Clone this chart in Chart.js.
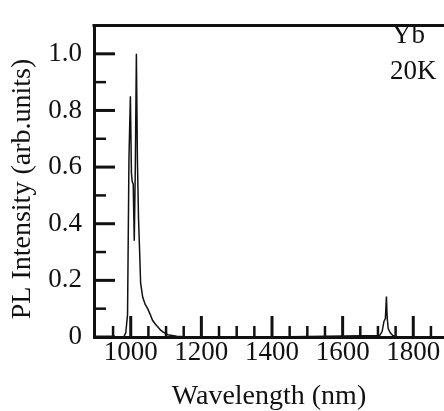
<!DOCTYPE html>
<html>
<head>
<meta charset="utf-8">
<script src="https://cdn.jsdelivr.net/npm/chart.js@4/dist/chart.umd.min.js"></script>
<style>
  html, body { margin: 0; padding: 0; background: #fff; }
  #wrap { width: 444px; height: 411px; }
</style>
</head>
<body>
<div id="wrap"><canvas id="plSpectrum"></canvas></div>
<script>
// PL spectrum of Yb at 20K
const wavelength = [896, 980, 986, 991, 995, 999, 1002, 1004, 1007, 1010, 1013, 1016, 1019, 1022, 1025, 1028, 1034, 1041, 1048, 1055, 1062, 1070, 1077, 1084, 1091, 1105, 1130, 1160, 1400, 1705, 1712, 1717, 1721, 1724, 1726, 1729, 1735, 1742, 1755, 1887];
const intensity  = [0,   0,   0.015, 0.08, 0.63, 0.85, 0.58, 0.55, 0.54, 0.34, 0.6,  1.0,  0.62, 0.42, 0.31, 0.19, 0.14, 0.115, 0.1, 0.08, 0.058, 0.045, 0.035, 0.025, 0.018, 0.008, 0.003, 0, 0, 0.005, 0.02, 0.055, 0.065, 0.143, 0.07, 0.03, 0.015, 0.005, 0, 0];

const xMajorTicks = [1000, 1200, 1400, 1600, 1800];
const xMinorTicks = [950, 1050, 1100, 1150, 1250, 1300, 1350, 1450, 1500, 1550, 1650, 1700, 1750, 1850];
const yMajorTicks = [0, 0.2, 0.4, 0.6, 0.8, 1.0];
const yMinorTicks = [0.1, 0.3, 0.5, 0.7, 0.9];
const yTitle = "PL Intensity (arb.units)";
const xTitle = "Wavelength (nm)";
const notes = ["Yb", "20K"];

const serif = "'Liberation Serif', 'Times New Roman', serif";

// inward ticks, top frame line, y title and the labels in the corner
const framePlugin = {
  id: "frame",
  afterDraw(chart) {
    const ctx = chart.ctx;
    const area = chart.chartArea;
    const x = chart.scales.x;
    const y = chart.scales.y;
    ctx.save();
    ctx.strokeStyle = "#111";
    ctx.lineCap = "butt";

    function xTick(v, len, w) {
      const px = x.getPixelForValue(v);
      ctx.lineWidth = w;
      ctx.beginPath();
      ctx.moveTo(px, area.bottom);
      ctx.lineTo(px, area.bottom - len);
      ctx.stroke();
    }
    function yTick(v, len, w) {
      const py = y.getPixelForValue(v);
      ctx.lineWidth = w;
      ctx.beginPath();
      ctx.moveTo(area.left, py);
      ctx.lineTo(area.left + len, py);
      ctx.stroke();
    }
    xMajorTicks.forEach(v => xTick(v, 21, 3));
    xMinorTicks.forEach(v => xTick(v, 11, 2.5));
    yMajorTicks.forEach(v => yTick(v, 21, 3));
    yMinorTicks.forEach(v => yTick(v, 12, 2.5));

    // top border
    ctx.lineWidth = 3;
    ctx.beginPath();
    ctx.moveTo(area.left - 1.5, area.top);
    ctx.lineTo(area.right, area.top);
    ctx.stroke();

    ctx.fillStyle = "#111";
    ctx.font = "28px " + serif;
    ctx.textAlign = "center";
    ctx.textBaseline = "middle";
    ctx.translate(23, 189);
    ctx.rotate(-Math.PI / 2);
    ctx.fillText(yTitle, 0, 0);
    ctx.restore();

    ctx.save();
    ctx.fillStyle = "#111";
    ctx.font = "27px " + serif;
    ctx.textAlign = "left";
    ctx.textBaseline = "middle";
    ctx.fillText(notes[0], 392, 36);
    ctx.fillText(notes[1], 390, 72);
    ctx.restore();
  }
};

const plSpectrum = document.getElementById("plSpectrum").getContext("2d");

let plSpectrumChart = new Chart(plSpectrum, {
  type: "line",
  data: {
    datasets: [
      {
        label: "Yb 20K",
        data: wavelength.map((w, i) => ({ x: w, y: intensity[i] })),
        borderColor: "#111",
        borderWidth: 1.5,
        pointRadius: 0,
        tension: 0,
        fill: false,
      },
    ],
  },
  options: {
    responsive: true,
    maintainAspectRatio: false,
    animation: false,
    layout: {
      padding: { left: 0, top: 13, right: 0, bottom: 0 },
    },
    plugins: {
      legend: { display: false },
      tooltip: { enabled: false },
    },
    scales: {
      x: {
        type: "linear",
        min: 896,
        max: 1887,
        afterBuildTicks: (scale) => {
          scale.ticks = xMajorTicks.map(v => ({ value: v }));
        },
        afterFit: (scale) => { scale.height = 74; },
        grid: { display: false, drawTicks: false },
        border: { display: true, color: "#111", width: 3 },
        ticks: {
          color: "#111",
          padding: 2.5,
          maxRotation: 0,
          autoSkip: false,
          font: { family: serif, size: 27, lineHeight: 1 },
          callback: function (value) {
            return String(value);
          },
        },
        title: {
          display: true,
          text: xTitle,
          color: "#111",
          padding: 0,
          font: { family: serif, size: 28, lineHeight: 1 },
        },
      },
      y: {
        min: 0,
        max: 1.1,
        afterBuildTicks: (scale) => {
          scale.ticks = yMajorTicks.map(v => ({ value: v }));
        },
        afterFit: (scale) => { scale.width = 94; },
        grid: { display: false, drawTicks: false },
        border: { display: true, color: "#111", width: 3 },
        ticks: {
          color: "#111",
          padding: 12,
          autoSkip: false,
          font: { family: serif, size: 27, lineHeight: 1 },
          callback: function (value) {
            return value === 0 ? "0" : value.toFixed(1);
          },
        },
      },
    },
  },
  plugins: [framePlugin],
});
</script>
</body>
</html>
